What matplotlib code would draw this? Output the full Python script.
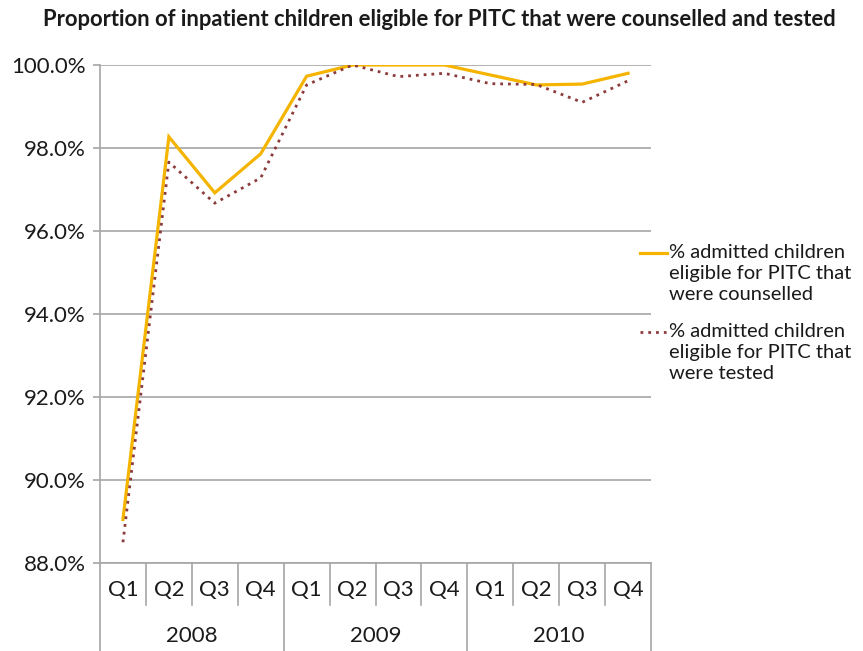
import matplotlib.pyplot as plt
from matplotlib.lines import Line2D
from matplotlib.ticker import FuncFormatter

plt.rcParams['font.family'] = ['Lato', 'DejaVu Sans']

# Data
quarters = ['Q1', 'Q2', 'Q3', 'Q4'] * 3
years = ['2008', '2009', '2010']
counselled = [89.05, 98.27, 96.92, 97.86, 99.73, 100.0, 100.0, 100.0, 99.76, 99.52, 99.54, 99.80]
tested = [88.50, 97.66, 96.67, 97.28, 99.52, 100.0, 99.72, 99.80, 99.55, 99.53, 99.10, 99.62]
label_c = '% admitted children\neligible for PITC that\nwere counselled'
label_t = '% admitted children\neligible for PITC that\nwere tested'

col_c = '#F5B400'
col_t = '#8C3B3B'
grid_col = '#A6A6A6'
txt_col = '#1a1a1a'

fig = plt.figure(figsize=(8.63, 6.51), dpi=100)
ax = fig.add_axes([100 / 863, 88 / 651, 551 / 863, 498 / 651])

x = list(range(len(counselled)))
ax.plot(x, counselled, color=col_c, lw=2.3, solid_joinstyle='miter')
ax.plot(x, tested, color=col_t, lw=2.0, linestyle=(0, (1, 1.8)))

ax.set_xlim(-0.5, 11.5)
ax.set_ylim(88, 100)
ax.set_yticks([88, 90, 92, 94, 96, 98, 100])
ax.yaxis.set_major_formatter(FuncFormatter(lambda v, p: f'{v:.1f}%'))
ax.grid(axis='y', color=grid_col, lw=1.2)
ax.set_axisbelow(True)
for s in ['top', 'right']:
    ax.spines[s].set_visible(False)
for s in ['left', 'bottom']:
    ax.spines[s].set_color(grid_col)
    ax.spines[s].set_linewidth(1.2)
ax.tick_params(axis='y', length=5, color=grid_col, width=1.2, labelsize=16, pad=5, labelcolor=txt_col)
ax.set_xticks([])

# two level category axis
trans = ax.get_xaxis_transform()
q_depth = -42 / 498
y_depth = -88 / 498
for i in range(13):
    b = i - 0.5
    depth = y_depth if i % 4 == 0 else q_depth
    ax.plot([b, b], [0, depth], color=grid_col, lw=1.2, transform=trans, clip_on=False)
for i, q in enumerate(quarters):
    ax.text(i, -27 / 498, q, transform=trans, ha='center', va='center', fontsize=16, color=txt_col)
for j, yr in enumerate(years):
    ax.text(j * 4 + 1.5, -73 / 498, yr, transform=trans, ha='center', va='center', fontsize=16, color=txt_col)

fig.text(439 / 863, 1 - 20 / 651, 'Proportion of inpatient children eligible for PITC that were counselled and tested',
         ha='center', va='center', fontsize=15.8, fontweight='bold', color=txt_col)

# legend
for yl, lab, col, ls, lw in [(253, label_c, col_c, '-', 2.3), (332, label_t, col_t, (0, (1, 1.8)), 2.0)]:
    fy = 1 - yl / 651
    fig.add_artist(Line2D([640 / 863, 667 / 863], [fy, fy], color=col, lw=lw, linestyle=ls))
    fig.text(669 / 863, fy + 9 / 651, lab, ha='left', va='top', fontsize=14.5, linespacing=1.3, color=txt_col)

fig.savefig('out.png', dpi=100)
